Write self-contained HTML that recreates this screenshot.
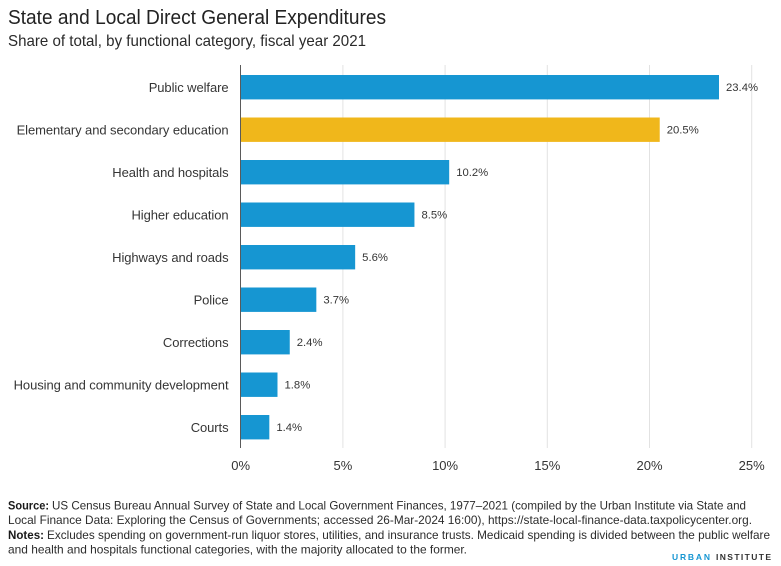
<!DOCTYPE html>
<html lang="en">
<head>
<meta charset="utf-8">
<title>State and Local Direct General Expenditures</title>
<style>
  html, body { margin: 0; padding: 0; background: #fff; }
  #chart-svg { display: block; }
  text { font-family: "Liberation Sans", sans-serif; }
  .cat { font-size: 13px; fill: #353535; text-anchor: end; letter-spacing: -0.08px; }
  .val { font-size: 11.3px; fill: #353535; }
  .tick { font-size: 13px; fill: #353535; text-anchor: middle; }
  .note { font-size: 11.8px; fill: #2c2c2c; }
  .note-b { font-size: 11.8px; fill: #1a1a1a; font-weight: bold; }
</style>
</head>
<body>
<svg id="chart-svg" width="781" height="566" viewBox="0 0 781 566" xmlns="http://www.w3.org/2000/svg">
  <rect x="0" y="0" width="781" height="566" fill="#ffffff"/>
  <text x="8" y="24" font-size="20" fill="#222222" textLength="378" lengthAdjust="spacingAndGlyphs">State and Local Direct General Expenditures</text>
  <text x="8" y="46" font-size="16" fill="#2a2a2a" textLength="358" lengthAdjust="spacingAndGlyphs">Share of total, by functional category, fiscal year 2021</text>

  <g id="grid-layer"></g>
  <g id="bar-layer"></g>
  <g id="cat-layer"></g>
  <g id="val-layer"></g>
  <g id="tick-layer"></g>
  <line x1="240.5" x2="240.5" y1="65" y2="448" stroke="#5a5a5a" stroke-width="1"/>

  <text class="note-b" x="8" y="509.5" textLength="41" lengthAdjust="spacingAndGlyphs">Source:</text>
  <text class="note" x="52" y="509.5" textLength="694" lengthAdjust="spacingAndGlyphs">US Census Bureau Annual Survey of State and Local Government Finances, 1977–2021 (compiled by the Urban Institute via State and</text>
  <text class="note" x="8" y="524" textLength="744" lengthAdjust="spacingAndGlyphs">Local Finance Data: Exploring the Census of Governments; accessed 26-Mar-2024 16:00), https://state-local-finance-data.taxpolicycenter.org.</text>
  <text class="note-b" x="8" y="539" textLength="36" lengthAdjust="spacingAndGlyphs">Notes:</text>
  <text class="note" x="47" y="539" textLength="723" lengthAdjust="spacingAndGlyphs">Excludes spending on government-run liquor stores, utilities, and insurance trusts. Medicaid spending is divided between the public welfare</text>
  <text class="note" x="8" y="553.5" textLength="459" lengthAdjust="spacingAndGlyphs">and health and hospitals functional categories, with the majority allocated to the former.</text>

  <text x="672" y="560" font-size="8.5" font-weight="bold" fill="#1696d2" textLength="38" lengthAdjust="spacing">URBAN</text>
  <text x="716" y="560" font-size="8.5" font-weight="bold" fill="#333333" textLength="55" lengthAdjust="spacing">INSTITUTE</text>
</svg>
<script>
const categories = ["Public welfare", "Elementary and secondary education", "Health and hospitals", "Higher education", "Highways and roads", "Police", "Corrections", "Housing and community development", "Courts"];
const shareValues = [23.4, 20.5, 10.2, 8.5, 5.6, 3.7, 2.4, 1.8, 1.4];
const tickValues = [0, 5, 10, 15, 20, 25];
const tickLabels = ["0%", "5%", "10%", "15%", "20%", "25%"];
const highlightCategory = "Elementary and secondary education";

const NS = "http://www.w3.org/2000/svg";
const xAxisStart = 240.7;
const xAxisEnd = 751.7;
const xDomainMax = 25;
const firstBandCenter = 87.2;
const bandStep = 42.5;
const barHeight = 24.4;

function xScale(v) {
  return xAxisStart + (v / xDomainMax) * (xAxisEnd - xAxisStart);
}
function bandCenter(i) {
  return firstBandCenter + bandStep * i;
}

const gridLayer = document.getElementById("grid-layer");
const barLayer = document.getElementById("bar-layer");
const catLayer = document.getElementById("cat-layer");
const valLayer = document.getElementById("val-layer");
const tickLayer = document.getElementById("tick-layer");

tickValues.forEach(function (t, i) {
  if (t !== 0) {
    const g = document.createElementNS(NS, "line");
    
    
    g.setAttribute("x1", xScale(t));
    g.setAttribute("x2", xScale(t));
    g.setAttribute("y1", 65);
    g.setAttribute("y2", 448);
    g.setAttribute("stroke", "#e2e2e2");
    g.setAttribute("stroke-width", "1");
    gridLayer.appendChild(g);
  }
  const lab = document.createElementNS(NS, "text");
  
  
  lab.setAttribute("class", "tick");
  lab.setAttribute("x", xScale(t));
  lab.setAttribute("y", 470);
  lab.textContent = tickLabels[i];
  tickLayer.appendChild(lab);
});

categories.forEach(function (name, i) {
  const cy = bandCenter(i);
  const v = shareValues[i];

  const bar = document.createElementNS(NS, "rect");
  
  
  bar.setAttribute("x", xScale(0));
  bar.setAttribute("y", cy - barHeight / 2);
  bar.setAttribute("width", xScale(v) - xScale(0));
  bar.setAttribute("height", barHeight);
  bar.setAttribute("fill", name === highlightCategory ? "#f0b71b" : "#1696d2");
  barLayer.appendChild(bar);

  const cat = document.createElementNS(NS, "text");
  
  
  cat.setAttribute("class", "cat");
  cat.setAttribute("x", 228.5);
  cat.setAttribute("y", cy + 4.7);
  cat.textContent = name;
  catLayer.appendChild(cat);

  const val = document.createElementNS(NS, "text");
  
  
  val.setAttribute("class", "val");
  val.setAttribute("x", xScale(v) + 7);
  val.setAttribute("y", cy + 4);
  val.textContent = v.toFixed(1) + "%";
  valLayer.appendChild(val);
});
</script>
</body>
</html>
